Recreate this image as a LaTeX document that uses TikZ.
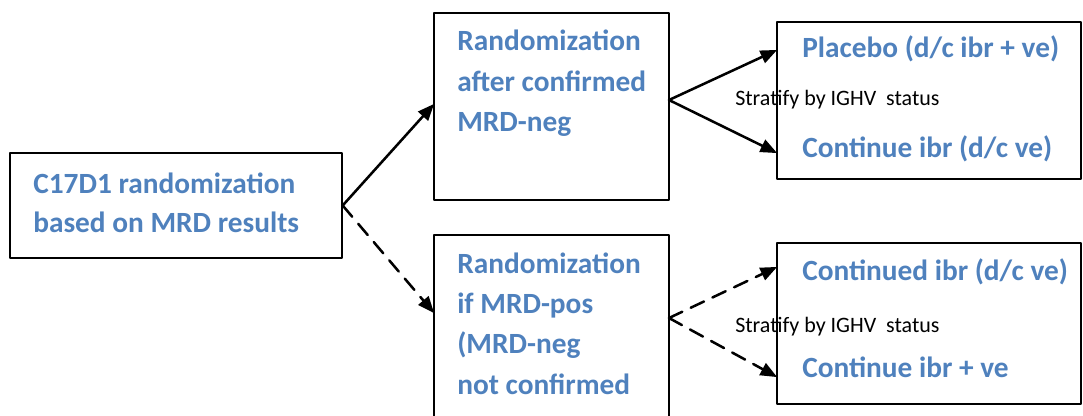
\documentclass[tikz,border=0pt]{standalone}
\usepackage{fontspec}
\setmainfont{Carlito}
\usetikzlibrary{arrows}
\usetikzlibrary{fit}
\usepackage{xcolor}
\definecolor{armblue}{HTML}{4F81BD}

\tikzset{box/.style={draw=black,line width=1pt,inner sep=0pt},
armtext/.style={anchor=base west,inner sep=0pt,color=armblue,font=\bfseries\fontsize{22}{26}\selectfont},
stratlabel/.style={anchor=base west,inner sep=0pt,font=\fontsize{16.5}{19}\selectfont},
arm/.style={->,line width=1.9pt},
dasharm/.style={->,line width=1.9pt,dash pattern=on 11pt off 7pt}}

\begin{document}
\begin{tikzpicture}[line cap=round,line join=round,>=triangle 45,x=0.75pt,y=-0.75pt]
\useasboundingbox (0,0) rectangle (1083,415);
\clip (0,0) rectangle (1083,415);
% boxes
\node[box,fit={(10,153) (342,258)}] (start) {};
\node[box,fit={(434,13) (669,200)}] (neg) {};
\node[box,fit={(434,235) (669,430)}] (pos) {};
\node[box,fit={(777,22) (1081,179)}] (negarms) {};
\node[box,fit={(777,243) (1081,404)}] (posarms) {};
% texts
\node[armtext] (t1) at (33,193) {C17D1 randomization};
\node[armtext] (t2) at (33,232) {based on MRD results};
\node[armtext] (t3) at (457,50) {Randomization};
\node[armtext] (t4) at (457,91) {after confirmed};
\node[armtext] (t5) at (457,131) {MRD-neg};
\node[armtext] (t6) at (457,273) {Randomization};
\node[armtext] (t7) at (457,313) {if MRD-pos};
\node[armtext] (t8) at (457,353) {(MRD-neg};
\node[armtext] (t9) at (457,394) {not confirmed};
\node[armtext] (t10) at (802,57) {Placebo (d/c ibr + ve)};
\node[armtext] (t11) at (802,157) {Continue ibr (d/c ve)};
\node[armtext] (t12) at (802,280) {Continued ibr (d/c ve)};
\node[armtext] (t13) at (802,377) {Continue ibr + ve};
\node[stratlabel] (s1) at (735,105) {Stratify by IGHV~ status};
\node[stratlabel] (s2) at (735,332) {Stratify by IGHV~ status};
% connectors
\coordinate (negin) at (434,104);
\coordinate (posin) at (434,313);
\coordinate (negout) at (669,100);
\coordinate (posout) at (669,318);
\coordinate (placin) at (777,50);
\coordinate (contin) at (777,153);
\coordinate (contdin) at (777,267);
\coordinate (combin) at (777,377);
\draw[arm] (start.east) -- (negin);
\draw[dasharm] (start.east) -- (posin);
\draw[arm] (negout) -- (placin);
\draw[arm] (negout) -- (contin);
\draw[dasharm] (posout) -- (contdin);
\draw[dasharm] (posout) -- (combin);
\end{tikzpicture}
\end{document}
